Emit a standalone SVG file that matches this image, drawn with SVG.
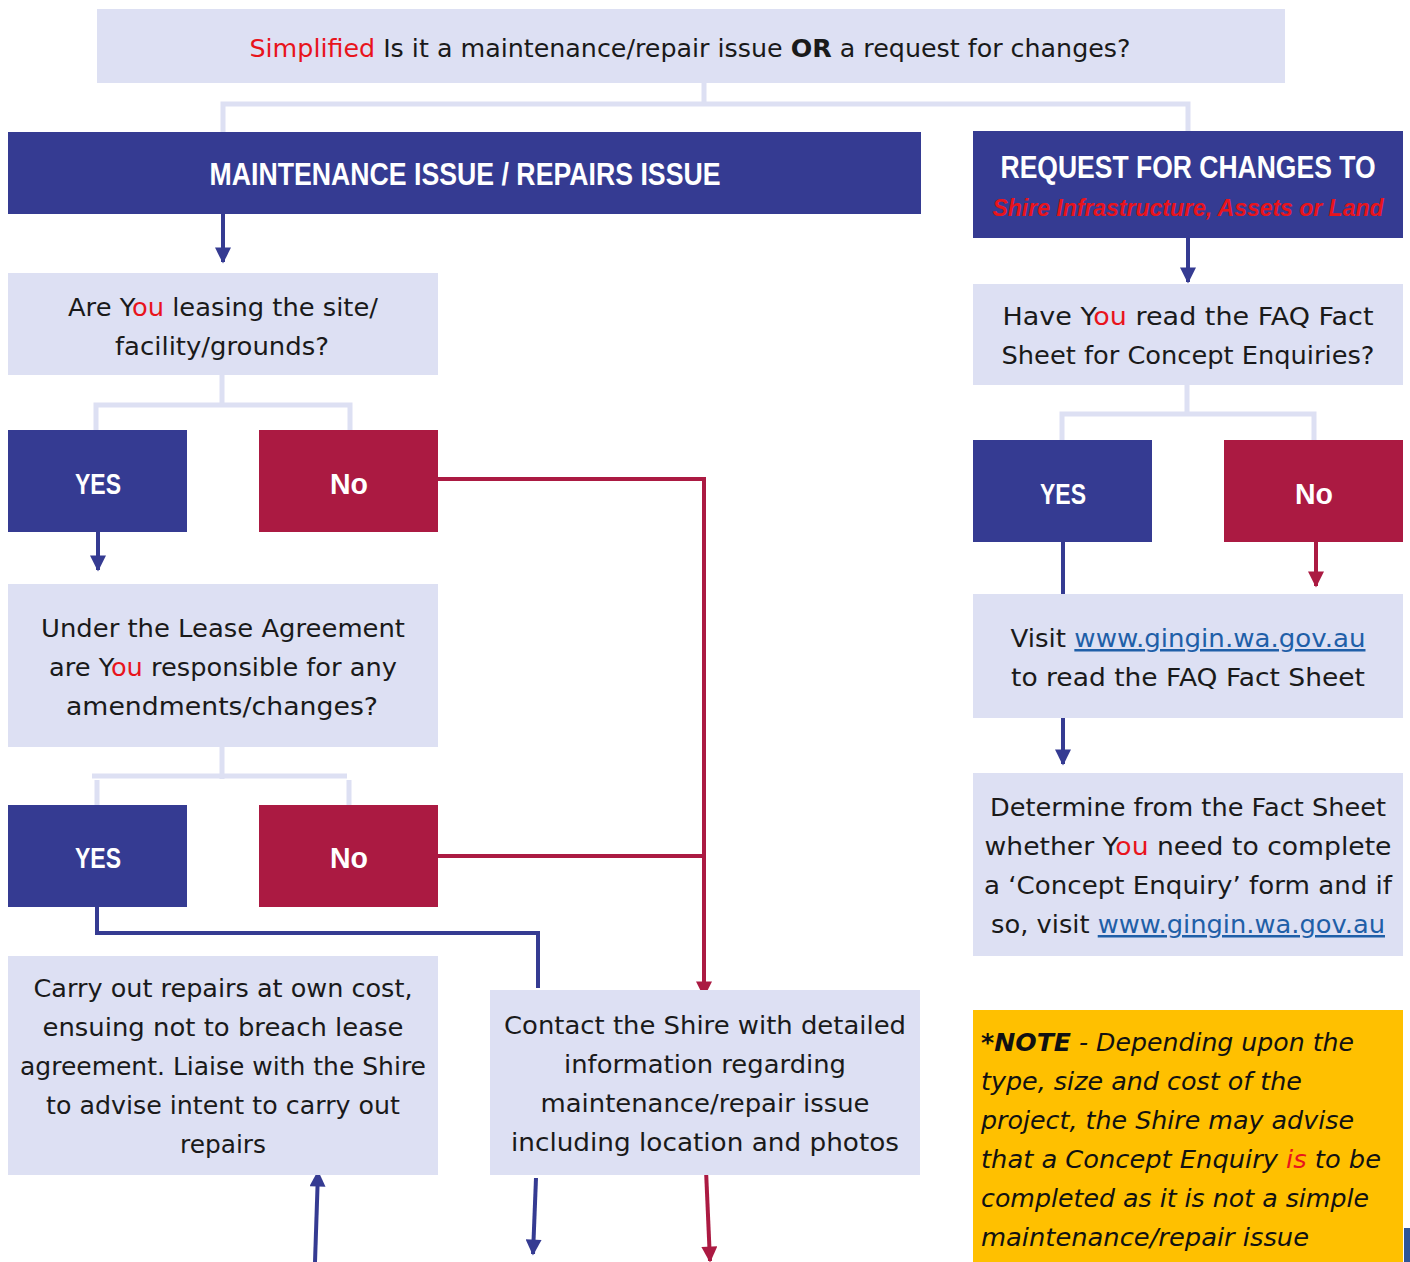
<svg xmlns="http://www.w3.org/2000/svg" width="1410" height="1262" viewBox="0 0 1410 1262">
<style>
.lt{fill:#dde0f3}
.bl{fill:#353b92}
.rd{fill:#ab1a42}
.t{font-family:"DejaVu Sans","Liberation Sans",sans-serif;font-size:25px;fill:#1a1a1a;text-anchor:middle}
.h{font-family:"Liberation Sans",Arial,sans-serif;font-weight:bold;fill:#fff;text-anchor:middle}
.r{fill:#e8141c}
.lk{fill:#1f5fa8;text-decoration:underline}
.n{font-family:"DejaVu Sans","Liberation Sans",sans-serif;font-size:25px;font-style:italic;fill:#111}
.cl{fill:none;stroke:#dde0f3;stroke-width:5}
.cb{fill:none;stroke:#353b92;stroke-width:4}
.cr{fill:none;stroke:#ab1a42;stroke-width:4}
</style>
<defs>
<marker id="ab" viewBox="0 0 10 10" refX="9" refY="5" markerWidth="4.5" markerHeight="4" orient="auto" markerUnits="strokeWidth"><path d="M0,0L10,5L0,10z" fill="#353b92"/></marker>
<marker id="ar" viewBox="0 0 10 10" refX="9" refY="5" markerWidth="4.5" markerHeight="4" orient="auto" markerUnits="strokeWidth"><path d="M0,0L10,5L0,10z" fill="#ab1a42"/></marker>
</defs>
<rect width="1410" height="1262" fill="#fff"/>
<g id="connectors">
<path class="cl" d="M704,83V104M223,132V104H1188V131"/>
<path class="cl" d="M222,375V405M96,430V405H350V430"/>
<path class="cl" d="M222,747V779M92,776H347M97,805V780M349,805V780"/>
<path class="cl" d="M1187,385V414M1062,440V414H1314V440"/>
<path class="cb" d="M223,214V262" marker-end="url(#ab)"/>
<path class="cb" d="M98,532V570" marker-end="url(#ab)"/>
<path class="cr" d="M438,479H704V996" marker-end="url(#ar)"/>
<path class="cr" d="M438,856H704"/>
<path class="cb" d="M97,907V933H540M538,933V988"/>
<path class="cb" d="M1188,238V282" marker-end="url(#ab)"/>
<path class="cb" d="M1063,542V594"/>
<path class="cr" d="M1316,542V586" marker-end="url(#ar)"/>
<path class="cb" d="M1063,718V764" marker-end="url(#ab)"/>
<path class="cb" d="M315,1262L318,1172" marker-end="url(#ab)"/>
<path class="cb" d="M536,1178L533,1254" marker-end="url(#ab)"/>
<path class="cr" d="M706,1170L710,1261" marker-end="url(#ar)"/>
</g>
<g id="top"><rect class="lt" x="97" y="9" width="1188" height="74"/>
<text class="t" x="690" y="57" font-size="26" textLength="881" lengthAdjust="spacingAndGlyphs"><tspan class="r">Simplified</tspan> Is it a maintenance/repair issue <tspan font-weight="bold">OR</tspan> a request for changes?</text></g>
<g id="maint"><rect class="bl" x="8" y="132" width="913" height="82"/>
<text class="h" x="465" y="185" font-size="31" textLength="511" lengthAdjust="spacingAndGlyphs">MAINTENANCE ISSUE / REPAIRS ISSUE</text></g>
<g id="request"><rect class="bl" x="973" y="131" width="430" height="107"/>
<text class="h" x="1188" y="178" font-size="31" textLength="375" lengthAdjust="spacingAndGlyphs">REQUEST FOR CHANGES TO</text>
<text class="h" x="1188" y="216" font-size="24" font-style="italic" style="fill:#e8141c" textLength="391" lengthAdjust="spacingAndGlyphs">Shire Infrastructure, Assets or Land</text></g>
<g id="leasing"><rect class="lt" x="8" y="273" width="430" height="102"/>
<text class="t" x="223" y="316" textLength="310" lengthAdjust="spacingAndGlyphs">Are Y<tspan class="r">ou</tspan> leasing the site/</text>
<text class="t" x="222" y="355" textLength="214" lengthAdjust="spacingAndGlyphs">facility/grounds?</text></g>
<g id="yes1"><rect class="bl" x="8" y="430" width="179" height="102"/><text class="h" x="98" y="494" font-size="29" textLength="46" lengthAdjust="spacingAndGlyphs">YES</text></g>
<g id="no1"><rect class="rd" x="259" y="430" width="179" height="102"/><text class="h" x="349" y="494" font-size="29" textLength="38" lengthAdjust="spacingAndGlyphs">No</text></g>
<g id="lease"><rect class="lt" x="8" y="584" width="430" height="163"/>
<text class="t" x="223" y="637" textLength="364" lengthAdjust="spacingAndGlyphs">Under the Lease Agreement</text>
<text class="t" x="223" y="676" textLength="348" lengthAdjust="spacingAndGlyphs">are Y<tspan class="r">ou</tspan> responsible for any</text>
<text class="t" x="222" y="715" textLength="312" lengthAdjust="spacingAndGlyphs">amendments/changes?</text></g>
<g id="yes2"><rect class="bl" x="8" y="805" width="179" height="102"/><text class="h" x="98" y="868" font-size="29" textLength="46" lengthAdjust="spacingAndGlyphs">YES</text></g>
<g id="no2"><rect class="rd" x="259" y="805" width="179" height="102"/><text class="h" x="349" y="868" font-size="29" textLength="38" lengthAdjust="spacingAndGlyphs">No</text></g>
<g id="carry"><rect class="lt" x="8" y="956" width="430" height="219"/>
<text class="t" x="223" y="997" textLength="379" lengthAdjust="spacingAndGlyphs">Carry out repairs at own cost,</text>
<text class="t" x="223" y="1036" textLength="361" lengthAdjust="spacingAndGlyphs">ensuing not to breach lease</text>
<text class="t" x="223" y="1075" textLength="406" lengthAdjust="spacingAndGlyphs">agreement. Liaise with the Shire</text>
<text class="t" x="223" y="1114" textLength="354" lengthAdjust="spacingAndGlyphs">to advise intent to carry out</text>
<text class="t" x="223" y="1153" textLength="86" lengthAdjust="spacingAndGlyphs">repairs</text></g>
<g id="contact"><rect class="lt" x="490" y="990" width="430" height="185"/>
<text class="t" x="705" y="1034" textLength="402" lengthAdjust="spacingAndGlyphs">Contact the Shire with detailed</text>
<text class="t" x="705" y="1073" textLength="282" lengthAdjust="spacingAndGlyphs">information regarding</text>
<text class="t" x="705" y="1112" textLength="329" lengthAdjust="spacingAndGlyphs">maintenance/repair issue</text>
<text class="t" x="705" y="1151" textLength="388" lengthAdjust="spacingAndGlyphs">including location and photos</text></g>
<g id="faq"><rect class="lt" x="973" y="284" width="430" height="101"/>
<text class="t" x="1188" y="325" textLength="371" lengthAdjust="spacingAndGlyphs">Have Y<tspan class="r">ou</tspan> read the FAQ Fact</text>
<text class="t" x="1188" y="364" textLength="373" lengthAdjust="spacingAndGlyphs">Sheet for Concept Enquiries?</text></g>
<g id="yes3"><rect class="bl" x="973" y="440" width="179" height="102"/><text class="h" x="1063" y="504" font-size="29" textLength="46" lengthAdjust="spacingAndGlyphs">YES</text></g>
<g id="no3"><rect class="rd" x="1224" y="440" width="179" height="102"/><text class="h" x="1314" y="504" font-size="29" textLength="38" lengthAdjust="spacingAndGlyphs">No</text></g>
<g id="visit"><rect class="lt" x="973" y="594" width="430" height="124"/>
<text class="t" x="1188" y="647" textLength="355" lengthAdjust="spacingAndGlyphs">Visit <tspan class="lk">www.gingin.wa.gov.au</tspan></text>
<text class="t" x="1188" y="686" textLength="354" lengthAdjust="spacingAndGlyphs">to read the FAQ Fact Sheet</text></g>
<g id="determine"><rect class="lt" x="973" y="773" width="430" height="183"/>
<text class="t" x="1188" y="816" textLength="396" lengthAdjust="spacingAndGlyphs">Determine from the Fact Sheet</text>
<text class="t" x="1188" y="855" textLength="407" lengthAdjust="spacingAndGlyphs">whether Y<tspan class="r">ou</tspan> need to complete</text>
<text class="t" x="1188" y="894" textLength="408" lengthAdjust="spacingAndGlyphs">a ‘Concept Enquiry’ form and if</text>
<text class="t" x="1188" y="933" textLength="394" lengthAdjust="spacingAndGlyphs">so, visit <tspan class="lk">www.gingin.wa.gov.au</tspan></text></g>
<g id="note"><rect x="973" y="1010" width="430" height="252" fill="#ffc000"/>
<text class="n" x="981" y="1051" textLength="373" lengthAdjust="spacingAndGlyphs"><tspan font-weight="bold">*NOTE</tspan> - Depending upon the</text>
<text class="n" x="981" y="1090" textLength="321" lengthAdjust="spacingAndGlyphs">type, size and cost of the</text>
<text class="n" x="981" y="1129" textLength="373" lengthAdjust="spacingAndGlyphs">project, the Shire may advise</text>
<text class="n" x="981" y="1168" textLength="400" lengthAdjust="spacingAndGlyphs">that a Concept Enquiry <tspan class="r">is</tspan> to be</text>
<text class="n" x="981" y="1207" textLength="388" lengthAdjust="spacingAndGlyphs">completed as it is not a simple</text>
<text class="n" x="981" y="1246" textLength="328" lengthAdjust="spacingAndGlyphs">maintenance/repair issue</text></g>
<rect x="1404" y="1228" width="6" height="34" fill="#2f5597"/>
</svg>
